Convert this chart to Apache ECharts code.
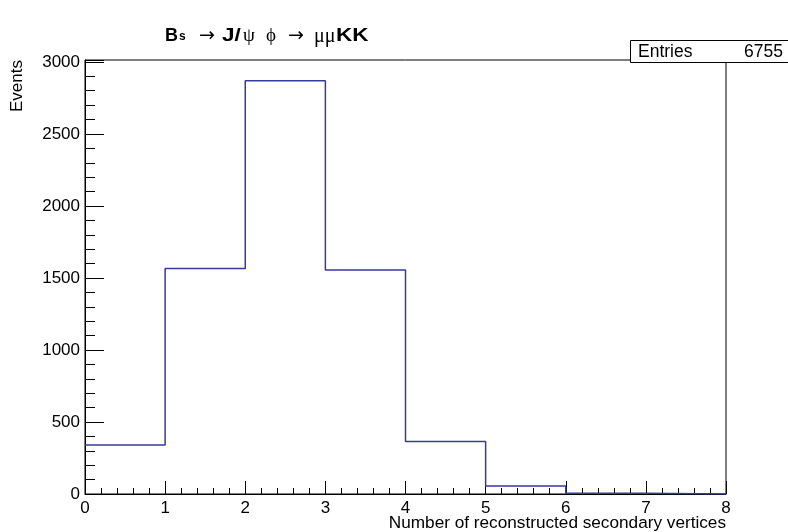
<!DOCTYPE html>
<html>
<head>
<meta charset="utf-8">
<script src="https://cdn.jsdelivr.net/npm/echarts@6/dist/echarts.min.js"></script>
<style>
html,body{margin:0;padding:0;background:#fff;}
#c{width:788px;height:532px;}
</style>
</head>
<body>
<div id="c"></div>
<script>
const binEdges = [0, 1, 2, 3, 4, 5, 6, 7, 8];
const counts = [340, 1565, 2870, 1555, 365, 55, 5, 0];
const xTicks = [0, 1, 2, 3, 4, 5, 6, 7, 8];
const yTicks = [0, 500, 1000, 1500, 2000, 2500, 3000];
const yMax = 3013.5;
const entries = counts.reduce((a, b) => a + b, 0);

const stepData = counts.map((v, i) => [binEdges[i], v]);
stepData.push([binEdges[binEdges.length - 1], counts[counts.length - 1]]);

const FONT = '"Liberation Sans", Arial, Helvetica, sans-serif';
const GREEK = '"Liberation Serif", "DejaVu Serif", serif';
const ARROW = '"DejaVu Sans", sans-serif';
const chart = echarts.init(document.getElementById('c'), null, {renderer: 'canvas'});

function t(text, x, font, opts, align) {
  return Object.assign({type: 'text', x: x, y: 27, z: 50,
    style: {text: text, font: font, fill: '#000', textAlign: align || 'left', textVerticalAlign: 'alphabetic'}}, opts || {});
}

chart.setOption({
  animation: false,
  backgroundColor: '#fff',
  grid: {left: 85, right: 62, top: 60, bottom: 38, show: true, borderColor: '#000', borderWidth: 1, backgroundColor: 'transparent'},
  xAxis: {
    type: 'value', min: xTicks[0], max: xTicks[xTicks.length - 1], interval: 1,
    axisLine: {show: true, lineStyle: {color: '#000', width: 1}},
    axisTick: {show: true, inside: true, length: 13, lineStyle: {color: '#000'}},
    minorTick: {show: true, splitNumber: 5, length: 6, lineStyle: {color: '#000'}},
    axisLabel: {color: '#000', fontSize: 17, fontFamily: FONT, margin: 6},
    splitLine: {show: false}
  },
  yAxis: {
    type: 'value', min: 0, max: yMax, interval: 500,
    axisLine: {show: true, lineStyle: {color: '#000', width: 1}},
    axisTick: {show: true, inside: true, length: 19, lineStyle: {color: '#000'}},
    minorTick: {show: true, splitNumber: 5, length: 10, lineStyle: {color: '#000'}},
    axisLabel: {color: '#000', fontSize: 17, fontFamily: FONT, margin: 5,
      formatter: v => (yTicks.indexOf(v) >= 0 ? String(v) : '')},
    splitLine: {show: false}
  },
  series: [{
    type: 'line', step: 'end', data: stepData, symbol: 'none',
    lineStyle: {color: '#3a3a9c', width: 1.5}, z: 3
  }],
  graphic: [
    t('B', 165, 'bold 18px ' + FONT),
    t('s', 179, 'bold 12px ' + FONT, {y: 31}),
    t('→', 207, '19px ' + ARROW, null, 'center'),
    t('J/', 222, 'bold 18px ' + FONT, {scaleX: 1.25}),
    t('ψ', 243, '19px ' + GREEK),
    t('ϕ', 266, '19px ' + GREEK),
    t('→', 296, '19px ' + ARROW, null, 'center'),
    t('μμ', 314, '20px ' + GREEK),
    t('KK', 336, 'bold 18px ' + FONT, {scaleX: 1.25}),
    {type: 'text', x: 17, y: 60, rotation: Math.PI / 2,
      style: {text: 'Events', font: '17px ' + FONT, fill: '#000', textAlign: 'right', textVerticalAlign: 'middle'}},
    {type: 'text', x: 726, y: 515,
      style: {text: 'Number of reconstructed secondary vertices', font: '17.2px ' + FONT, fill: '#000', textAlign: 'right', textVerticalAlign: 'top'}},
    {type: 'rect', shape: {x: 630.5, y: 40.5, width: 170, height: 22}, z: 100,
      style: {fill: '#fff', stroke: '#000', lineWidth: 1}},
    {type: 'text', x: 638, y: 52, z: 101,
      style: {text: 'Entries', font: '17.5px ' + FONT, fill: '#000', textAlign: 'left', textVerticalAlign: 'middle'}},
    {type: 'text', x: 783, y: 52, z: 101,
      style: {text: String(entries), font: '17.5px ' + FONT, fill: '#000', textAlign: 'right', textVerticalAlign: 'middle'}}
  ]
});
</script>
</body>
</html>
